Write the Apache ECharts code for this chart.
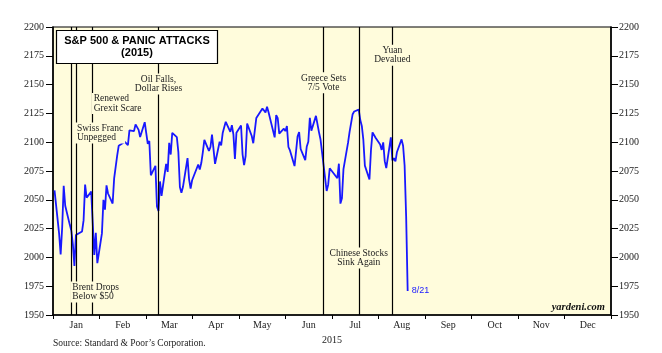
<!DOCTYPE html>
<html>
<head>
<meta charset="utf-8">
<script src="https://cdn.jsdelivr.net/npm/echarts@6/dist/echarts.min.js"></script>
<style>
  html, body { margin: 0; padding: 0; background: #fff; }
  #chart { width: 662px; height: 353px; }
</style>
</head>
<body>
<div id="chart"></div>
<script>
const chart = echarts.init(document.getElementById('chart'));

// S&P 500 daily closes, 2015 (through 8/21)
const tradeDates = [
  '2015-01-02','2015-01-05','2015-01-06','2015-01-07','2015-01-08','2015-01-09','2015-01-12','2015-01-13','2015-01-14','2015-01-15',
  '2015-01-16','2015-01-20','2015-01-21','2015-01-22','2015-01-23','2015-01-26','2015-01-27','2015-01-28','2015-01-29','2015-01-30',
  '2015-02-02','2015-02-03','2015-02-04','2015-02-05','2015-02-06','2015-02-09','2015-02-10','2015-02-11','2015-02-12','2015-02-13',
  '2015-02-17','2015-02-18','2015-02-19','2015-02-20','2015-02-23','2015-02-24','2015-02-25','2015-02-26','2015-02-27',
  '2015-03-02','2015-03-03','2015-03-04','2015-03-05','2015-03-06','2015-03-09','2015-03-10','2015-03-11','2015-03-12','2015-03-13',
  '2015-03-16','2015-03-17','2015-03-18','2015-03-19','2015-03-20','2015-03-23','2015-03-24','2015-03-25','2015-03-26','2015-03-27',
  '2015-03-30','2015-03-31',
  '2015-04-01','2015-04-02','2015-04-06','2015-04-07','2015-04-08','2015-04-09','2015-04-10','2015-04-13','2015-04-14','2015-04-15',
  '2015-04-16','2015-04-17','2015-04-20','2015-04-21','2015-04-22','2015-04-23','2015-04-24','2015-04-27','2015-04-28','2015-04-29',
  '2015-04-30',
  '2015-05-01','2015-05-04','2015-05-05','2015-05-06','2015-05-07','2015-05-08','2015-05-11','2015-05-12','2015-05-13','2015-05-14',
  '2015-05-15','2015-05-18','2015-05-19','2015-05-20','2015-05-21','2015-05-22','2015-05-26','2015-05-27','2015-05-28','2015-05-29',
  '2015-06-01','2015-06-02','2015-06-03','2015-06-04','2015-06-05','2015-06-08','2015-06-09','2015-06-10','2015-06-11','2015-06-12',
  '2015-06-15','2015-06-16','2015-06-17','2015-06-18','2015-06-19','2015-06-22','2015-06-23','2015-06-24','2015-06-25','2015-06-26',
  '2015-06-29','2015-06-30',
  '2015-07-01','2015-07-02','2015-07-06','2015-07-07','2015-07-08','2015-07-09','2015-07-10','2015-07-13','2015-07-14','2015-07-15',
  '2015-07-16','2015-07-17','2015-07-20','2015-07-21','2015-07-22','2015-07-23','2015-07-24','2015-07-27','2015-07-28','2015-07-29',
  '2015-07-30','2015-07-31',
  '2015-08-03','2015-08-04','2015-08-05','2015-08-06','2015-08-07','2015-08-10','2015-08-11','2015-08-12','2015-08-13','2015-08-14',
  '2015-08-17','2015-08-18','2015-08-19','2015-08-20','2015-08-21'
];
const closes = [
  2058.20,2020.58,2002.61,2025.90,2062.14,2044.81,2028.26,2023.03,2011.27,1992.67,
  2019.42,2022.55,2032.12,2063.15,2051.82,2057.09,2029.55,2002.16,2021.25,1994.99,
  2020.85,2050.03,2041.51,2062.52,2055.47,2046.74,2068.59,2068.53,2088.48,2096.99,
  2100.34,2099.68,2097.45,2110.30,2109.66,2115.48,2113.86,2110.74,2104.50,
  2117.39,2107.78,2098.53,2101.04,2071.26,2079.43,2044.16,2040.24,2065.95,2053.40,
  2081.19,2074.28,2099.50,2089.27,2108.10,2104.42,2091.50,2061.05,2056.15,2061.02,
  2086.24,2067.89,
  2059.69,2066.96,2080.62,2076.33,2081.90,2091.18,2102.06,2092.43,2095.84,2106.63,
  2104.99,2081.18,2100.40,2097.29,2107.96,2112.93,2117.69,2108.92,2114.76,2106.85,
  2085.51,
  2108.29,2114.49,2089.46,2080.15,2088.00,2116.10,2105.33,2099.12,2098.48,2121.10,
  2122.73,2129.20,2127.83,2125.85,2130.82,2126.06,2104.20,2123.48,2120.79,2107.39,
  2111.73,2109.60,2114.07,2095.84,2092.83,2079.28,2080.15,2105.20,2108.86,2094.11,
  2084.43,2096.29,2100.44,2121.24,2109.99,2122.85,2124.20,2108.58,2102.31,2101.49,
  2057.64,2063.11,
  2077.42,2076.78,2068.76,2081.34,2046.68,2051.31,2076.62,2099.60,2108.95,2107.40,
  2124.29,2126.64,2128.28,2119.21,2114.15,2102.15,2079.65,2067.64,2093.25,2108.57,
  2108.63,2103.84,
  2098.04,2093.32,2099.84,2083.56,2077.57,2104.18,2084.07,2086.05,2083.39,2091.54,
  2102.44,2096.92,2079.61,2035.73,1970.89
];

const monthLabels = ['Jan','Feb','Mar','Apr','May','Jun','Jul','Aug','Sep','Oct','Nov','Dec'];

// panic attack events: date of the line, label, label level, label alignment
const eventDates = ['2015-01-13','2015-01-16','2015-01-27','2015-03-11','2015-06-27','2015-07-20','2015-08-11'];
const eventLabels = [
  'Brent Drops\nBelow $50',
  'Swiss Franc\nUnpegged',
  'Renewed\nGrexit Scare',
  'Oil Falls,\nDollar Rises',
  'Greece Sets\n7/5 Vote',
  'Chinese Stocks\nSink Again',
  'Yuan\nDevalued'
];
const eventLabelLevels = [1970, 2108, 2133.5, 2150.5, 2151.5, 1999.5, 2175.5];
const eventLabelAlign = ['right','right','right','inside','inside','inside','inside'];

const bgYellow = '#fffcdc';
const serif = 'Liberation Serif';

const option = {
  animation: false,
  backgroundColor: '#fff',
  title: {
    text: 'S&P 500 & PANIC ATTACKS\n(2015)',
    left: 129,
    top: 30,
    textAlign: 'center',
    backgroundColor: '#fff',
    borderColor: '#000',
    borderWidth: 1.2,
    padding: [5, 8],
    textStyle: {
      fontFamily: 'Liberation Sans',
      fontWeight: 'bold',
      fontSize: 11,
      lineHeight: 12,
      color: '#000'
    }
  },
  grid: {
    left: 53,
    right: 51,
    top: 27,
    bottom: 38,
    show: true,
    backgroundColor: bgYellow,
    borderColor: '#000',
    borderWidth: 1.2
  },
  xAxis: [
    {
      type: 'time',
      min: '2015-01-01',
      max: '2016-01-01',
      show: false
    },
    {
      type: 'category',
      data: monthLabels,
      position: 'bottom',
      boundaryGap: true,
      axisLine: { lineStyle: { color: '#000', width: 1.5 } },
      axisTick: { show: true, length: 4, interval: 0, lineStyle: { color: '#000' } },
      axisLabel: { interval: 0, margin: 5, fontFamily: serif, fontSize: 10, color: '#222' },
      splitLine: { show: false },
      name: '2015',
      nameLocation: 'middle',
      nameGap: 19,
      nameTextStyle: { fontFamily: serif, fontSize: 10, color: '#222' }
    }
  ],
  yAxis: [
    {
      type: 'value',
      position: 'left',
      min: 1950,
      max: 2200,
      interval: 25,
      axisLine: { show: true, lineStyle: { color: '#000', width: 1.5 } },
      axisTick: { show: true, length: 7, lineStyle: { color: '#000' } },
      axisLabel: { margin: 9, fontFamily: serif, fontSize: 10, color: '#222', formatter: v => String(v) },
      splitLine: { show: false }
    },
    {
      type: 'value',
      position: 'right',
      min: 1950,
      max: 2200,
      interval: 25,
      axisLine: { show: true, lineStyle: { color: '#000', width: 1.5 } },
      axisTick: { show: true, length: 7, lineStyle: { color: '#000' } },
      axisLabel: { margin: 8, fontFamily: serif, fontSize: 10, color: '#222', formatter: v => String(v) },
      splitLine: { show: false }
    }
  ],
  graphic: [
    {
      type: 'text',
      right: 57,
      top: 302,
      style: {
        text: 'yardeni.com',
        font: 'italic bold 10.5px "Liberation Serif"',
        fill: '#111'
      }
    },
    {
      type: 'text',
      left: 53,
      top: 338,
      style: {
        text: 'Source: Standard & Poor\u2019s Corporation.',
        font: '9.5px "Liberation Serif"',
        fill: '#222'
      }
    }
  ],
  series: [
    {
      type: 'line',
      xAxisIndex: 0,
      yAxisIndex: 0,
      data: tradeDates.map((d, i) => [d, closes[i]]),
      symbol: 'none',
      showSymbol: false,
      lineStyle: { color: '#1818ff', width: 1.8 },
      itemStyle: { color: '#1818ff' },
      endLabel: {
        show: true,
        formatter: '8/21',
        color: '#1818ff',
        fontFamily: 'Liberation Sans',
        fontSize: 9,
        distance: 4
      },
      markLine: {
        silent: true,
        symbol: ['none', 'none'],
        label: { show: false },
        lineStyle: { color: '#000', width: 1.2, type: 'solid' },
        data: eventDates.map(d => ({ xAxis: d }))
      },
      markPoint: {
        z: 10,
        silent: true,
        data: eventDates.map((d, i) => ({
          coord: [d, eventLabelLevels[i]],
          symbol: 'rect',
          symbolSize: 0,
          label: {
            show: true,
            formatter: eventLabels[i],
            position: eventLabelAlign[i],
            distance: -1,
            align: eventLabelAlign[i] === 'right' ? 'left' : 'center',
            fontFamily: serif,
            fontSize: 9.5,
            lineHeight: 9.5,
            color: '#222',
            backgroundColor: bgYellow,
            padding: [1, 2]
          }
        }))
      }
    }
  ]
};

chart.setOption(option);
</script>
</body>
</html>
